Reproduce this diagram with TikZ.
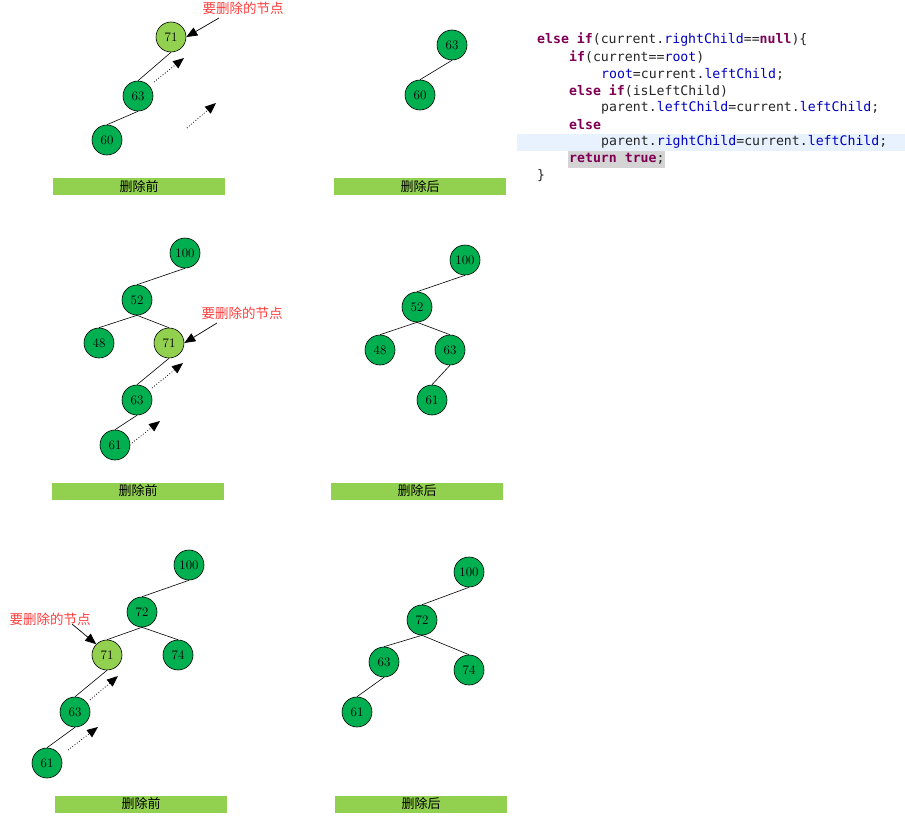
\documentclass[tikz,border=0pt]{standalone}
\usepackage{fontspec}
\setmonofont{DejaVu Sans Mono}
\newfontfamily\cjk{Noto Sans CJK SC}
\usetikzlibrary{arrows.meta,positioning}
\definecolor{dkgreen}{RGB}{0,176,80}
\definecolor{ltgreen}{RGB}{146,208,80}
\definecolor{kwcol}{RGB}{127,0,85}
\definecolor{fdcol}{RGB}{0,0,192}
\definecolor{hlblue}{RGB}{232,242,254}
\definecolor{hlgray}{RGB}{212,212,212}
\definecolor{lblred}{RGB}{255,60,60}
\newcommand{\kw}[1]{\textcolor{kwcol}{\bfseries #1}}
\newcommand{\fd}[1]{\textcolor{fdcol}{#1}}
\tikzset{
  nd/.style={circle,draw=black,line width=0.6pt,fill=dkgreen,minimum size=30pt,inner sep=0pt,font=\fontsize{13}{13}\selectfont},
  del/.style={nd,fill=ltgreen},
  bar/.style={fill=ltgreen,minimum width=172pt,minimum height=17pt,inner sep=0pt,font=\cjk\fontsize{13}{13}\selectfont},
  lbl/.style={text=lblred,inner sep=0pt,font=\cjk\fontsize{13.5}{13.5}\selectfont},
  code/.style={anchor=west,inner sep=0pt,text=black!85,font=\ttfamily\fontsize{13.2}{13.2}\selectfont},
  edge/.style={line width=0.6pt},
  mv/.style={-{Triangle[length=11pt,width=9pt]},dotted,line width=0.8pt},
  pt/.style={-{Triangle[length=11pt,width=9pt]},line width=0.7pt}
}
\begin{document}
\begin{tikzpicture}[x=1pt,y=-1pt]
\useasboundingbox (0,0) rectangle (905,827);

% first case: before
\node[del] (a71) at (171,37) {71};
\node[nd]  (a63) at (138,96) {63};
\node[nd]  (a60) at (107,140) {60};
\draw[edge] (a71.south) -- (a63.north);
\draw[edge] (a63.south) -- (a60.north);
\coordinate (am1) at (154,82);  \coordinate (am2) at (184,58);
\coordinate (am3) at (187,128); \coordinate (am4) at (216,103);
\draw[mv] (am1) -- (am2);
\draw[mv] (am3) -- (am4);
\node[lbl] (alb) at (243,8) {要删除的节点};
\coordinate (ap) at (219,18);
\draw[pt] (ap) -- (a71.east);
\node[bar] (ab1) at (139,186.5) {删除前};

% first case: after
\node[nd] (b63) at (452,45) {63};
\node[nd] (b60) at (420,95) {60};
\draw[edge] (b63.south) -- (b60.north);
\node[bar] (bb1) at (420,186.5) {删除后};

% code
\fill[hlblue] (517,134) rectangle (905,151);
\fill[hlgray] (568,151) rectangle (665,168);
\node[code] (c1) at (537,40)  {\kw{else} \kw{if}(current.\fd{rightChild}==\kw{null})\{};
\node[code] (c2) at (569,57)  {\kw{if}(current==\fd{root})};
\node[code] (c3) at (601,74)  {\fd{root}=current.\fd{leftChild};};
\node[code] (c4) at (569,91)  {\kw{else} \kw{if}(isLeftChild)};
\node[code] (c5) at (601,108) {parent.\fd{leftChild}=current.\fd{leftChild};};
\node[code] (c6) at (569,125) {\kw{else}};
\node[code] (c7) at (601,142) {parent.\fd{rightChild}=current.\fd{leftChild};};
\node[code] (c8) at (569,159) {\kw{return} \kw{true};};
\node[code] (c9) at (537,176) {\}};

% second case: before
\node[nd]  (d100) at (185,253) {100};
\node[nd]  (d52)  at (137,300) {52};
\node[nd]  (d48)  at (99,343)  {48};
\node[del] (d71)  at (169,343) {71};
\node[nd]  (d63)  at (137,400) {63};
\node[nd]  (d61)  at (115,445) {61};
\draw[edge] (d100.south) -- (d52.north);
\draw[edge] (d52.south) -- (d48.north);
\draw[edge] (d52.south) -- (d71.north);
\draw[edge] (d71.south) -- (d63.north);
\draw[edge] (d63.south) -- (d61.north);
\coordinate (dm1) at (152,388); \coordinate (dm2) at (183,363);
\coordinate (dm3) at (132,443); \coordinate (dm4) at (160,421);
\draw[mv] (dm1) -- (dm2);
\draw[mv] (dm3) -- (dm4);
\node[lbl] (dlb) at (242,313) {要删除的节点};
\coordinate (dp) at (217,323);
\draw[pt] (dp) -- (d71.east);
\node[bar] (db1) at (138,491) {删除前};

% second case: after
\node[nd] (e100) at (465,260) {100};
\node[nd] (e52)  at (417,307) {52};
\node[nd] (e48)  at (380,350) {48};
\node[nd] (e63)  at (450,350) {63};
\node[nd] (e61)  at (432,400) {61};
\draw[edge] (e100.south) -- (e52.north);
\draw[edge] (e52.south) -- (e48.north);
\draw[edge] (e52.south) -- (e63.north);
\draw[edge] (e63.south) -- (e61.north);
\node[bar] (eb1) at (417,491) {删除后};

% third case: before
\node[nd]  (f100) at (189,565) {100};
\node[nd]  (f72)  at (142,612) {72};
\node[del] (f71)  at (107,655) {71};
\node[nd]  (f74)  at (178,655) {74};
\node[nd]  (f63)  at (75,712)  {63};
\node[nd]  (f61)  at (47,763)  {61};
\draw[edge] (f100.south) -- (f72.north);
\draw[edge] (f72.south) -- (f71.north);
\draw[edge] (f72.south) -- (f74.north);
\draw[edge] (f71.south) -- (f63.north);
\draw[edge] (f63.south) -- (f61.north);
\coordinate (fm1) at (90,700); \coordinate (fm2) at (118,676);
\coordinate (fm3) at (68,750); \coordinate (fm4) at (98,727);
\draw[mv] (fm1) -- (fm2);
\draw[mv] (fm3) -- (fm4);
\node[lbl] (flb) at (50,619) {要删除的节点};
\coordinate (fp) at (72,624);
\draw[pt] (fp) -- (f71.north west);
\node[bar] (fb1) at (141,804) {删除前};

% third case: after
\node[nd] (g100) at (469,572) {100};
\node[nd] (g72)  at (422,620) {72};
\node[nd] (g63)  at (384,662) {63};
\node[nd] (g74)  at (469,670) {74};
\node[nd] (g61)  at (357,712) {61};
\draw[edge] (g100.south) -- (g72.north);
\draw[edge] (g72.south) -- (g63.north);
\draw[edge] (g72.south) -- (g74.north);
\draw[edge] (g63.south) -- (g61.north);
\node[bar] (gb1) at (421,804) {删除后};

\end{tikzpicture}
\end{document}
